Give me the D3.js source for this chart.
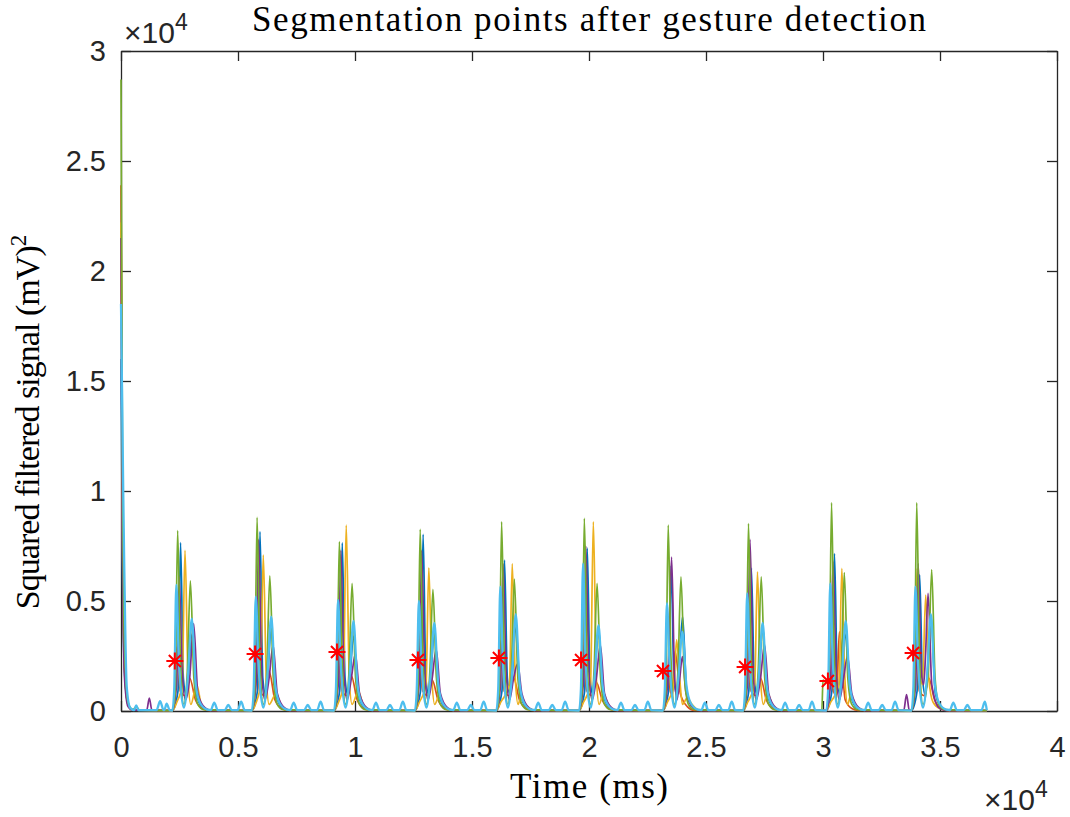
<!DOCTYPE html>
<html>
<head>
<meta charset="utf-8">
<script src="https://cdn.jsdelivr.net/npm/d3@7"></script>
<style>
  body { margin: 0; background: #fff; }
  svg { display: block; }
</style>
</head>
<body>
<div id="chart"></div>
<script>

// x ticks (ms) and y ticks, labels are shown in units of 10^4
var xTicks = [0, 5000, 10000, 15000, 20000, 25000, 30000, 35000, 40000];
var yTicks = [0, 5000, 10000, 15000, 20000, 25000, 30000];

// segmentation points found by the detector
var segTime = [2300, 5730, 9230, 12690, 16150, 19660, 23160, 26670, 30210, 33850];
var segValue = [2270, 2590, 2680, 2320, 2410, 2320, 1820, 2000, 1360, 2640];

// squared filtered signal of each channel, [time ms, value]
var blueSeries = [
    [0,16000],[60,7000],[150,1800],[300,300],[500,60],[800,30],
    [2195,20],[2435,900],[2545,7650],[2665,1500],[2795,700],[3035,3500],[3215,800],[3485,150],[3735,40],
    [5590,20],[5830,900],[5940,8150],[6060,1500],[6190,700],[6430,3800],[6610,800],[6880,150],[7130,40],
    [9105,20],[9345,900],[9455,7640],[9575,1500],[9705,700],[9945,3400],[10125,800],[10395,150],[10645,40],
    [12560,20],[12800,900],[12910,8030],[13030,1500],[13160,700],[13400,3600],[13580,800],[13850,150],[14100,40],
    [16040,20],[16280,900],[16390,6860],[16510,1500],[16640,700],[16880,3800],[17060,800],[17330,150],[17580,40],
    [19575,20],[19815,900],[19925,7400],[20045,1500],[20175,700],[20415,3700],[20595,800],[20865,150],[21115,40],
    [23160,20],[23400,900],[23510,6600],[23630,1500],[23760,700],[24000,4300],[24180,800],[24450,150],[24700,40],
    [26590,20],[26830,900],[26940,6500],[27060,1500],[27190,700],[27430,3800],[27610,800],[27880,150],[28130,40],
    [30140,20],[30380,900],[30490,7160],[30610,1500],[30740,700],[30980,3500],[31160,800],[31430,150],[31680,40],
    [33780,20],[34020,900],[34130,6200],[34250,1500],[34380,700],[34620,4300],[34800,800],[35070,150],[35320,40],
    [37000,20]
];

var orangeSeries = [
    [0,23900],[60,9000],[150,2000],[300,300],[500,40],
    [2195,20],[2295,600],[2385,2900],[2535,900],[2735,700],[2935,1500],[3185,500],[3485,100],[3735,30],
    [5590,20],[5690,600],[5780,3000],[5930,900],[6130,700],[6330,1800],[6580,500],[6880,100],[7130,30],
    [9105,20],[9205,600],[9295,2600],[9445,900],[9645,700],[9845,1600],[10095,500],[10395,100],[10645,30],
    [12560,20],[12660,600],[12750,2400],[12900,900],[13100,700],[13300,1400],[13550,500],[13850,100],[14100,30],
    [16040,20],[16140,600],[16230,3200],[16380,900],[16580,700],[16780,1500],[17030,500],[17330,100],[17580,30],
    [19575,20],[19675,600],[19765,2500],[19915,900],[20115,700],[20315,1300],[20565,500],[20865,100],[21115,30],
    [23160,20],[23260,600],[23350,2000],[23480,900],[23560,700],[23680,2700],[23900,800],[24200,200],[24500,30],
    [26590,20],[26690,600],[26780,2200],[26930,900],[27130,700],[27330,1500],[27580,500],[27880,100],[28130,30],
    [30140,20],[30240,600],[30330,1600],[30450,900],[30580,700],[30700,3600],[30950,500],[31250,100],[31500,30],
    [33780,20],[33880,600],[33970,3000],[34120,900],[34320,700],[34520,1500],[34770,500],[35070,100],[35320,30],
    [37000,20]
];

var yellowSeries = [
    [0,22200],[60,9000],[150,2000],[300,300],[500,40],
    [2195,20],[2385,400],[2615,1200],[2735,7300],[2865,1500],[2985,300],[3235,1200],[3435,300],[3735,40],
    [5590,20],[5780,400],[5960,1200],[6080,7090],[6210,1500],[6330,300],[6630,800],[6830,300],[7130,40],
    [9105,20],[9295,400],[9505,1200],[9625,8450],[9755,1500],[9875,300],[10145,900],[10345,300],[10645,40],
    [12560,20],[12750,400],[13035,1200],[13155,6510],[13285,1500],[13405,300],[13600,700],[13800,300],[14100,40],
    [16040,20],[16230,400],[16600,1200],[16720,6700],[16850,1500],[16970,300],[17080,600],[17280,300],[17580,40],
    [19575,20],[19765,400],[20065,1200],[20185,8600],[20315,1500],[20435,300],[20615,800],[20815,300],[21115,40],
    [23160,20],[23350,400],[23625,1200],[23745,3230],[23875,1500],[23995,300],[24200,600],[24400,300],[24700,40],
    [26590,20],[26780,400],[27080,1200],[27200,6330],[27330,1500],[27450,300],[27630,800],[27830,300],[28130,40],
    [30140,20],[30330,400],[30685,1200],[30805,6480],[30935,1500],[31055,300],[31180,700],[31380,300],[31680,40],
    [33780,20],[33900,1500],[34020,6480],[34130,2000],[34250,1200],[34390,5270],[34520,1500],[34700,400],[35000,100],[35300,30],
    [37000,20]
];

var purpleSeries = [
    [0,21500],[60,8000],[150,1500],[300,200],[500,40],[1100,40],[1210,590],[1320,40],
    [2195,20],[2375,1200],[2485,6100],[2615,1800],[2755,500],[2935,1500],[3105,3970],[3285,800],[3585,150],[3835,30],
    [5590,20],[5770,1200],[5880,7800],[6010,1800],[6150,500],[6330,1500],[6500,3000],[6680,800],[6980,150],[7230,30],
    [9105,20],[9285,1200],[9395,7300],[9525,1800],[9665,500],[9845,1500],[10015,2600],[10195,800],[10495,150],[10745,30],
    [12560,20],[12740,1200],[12850,7300],[12980,1800],[13120,500],[13300,1500],[13470,2800],[13650,800],[13950,150],[14200,30],
    [16040,20],[16220,1200],[16330,6700],[16460,1800],[16600,500],[16780,1500],[16950,2160],[17130,800],[17430,150],[17680,30],
    [19575,20],[19755,1200],[19865,7500],[19995,1800],[20135,500],[20315,1500],[20485,3000],[20665,800],[20965,150],[21215,30],
    [23160,20],[23360,1200],[23530,7000],[23650,1800],[23760,500],[23880,1500],[23990,2470],[24150,800],[24450,150],[24700,30],
    [26590,20],[26770,1200],[26880,7800],[27010,1800],[27150,500],[27330,1500],[27500,3000],[27680,800],[27980,150],[28230,30],
    [30140,20],[30320,1200],[30430,6800],[30560,1800],[30700,500],[30880,1500],[31050,2500],[31230,800],[31530,150],[31780,30],
    [33450,20],[33570,750],[33690,20],
    [33780,20],[33960,1200],[34070,6700],[34200,1800],[34300,1200],[34380,2500],[34490,5350],[34650,1200],[34950,150],[35200,30],
    [37000,20]
];

var greenSeries = [
    [0,28700],[60,12000],[150,3000],[300,400],[500,60],[650,200],[800,40],
    [2195,20],[2315,800],[2420,8200],[2535,2500],[2685,300],[2835,1800],[2965,5920],[3115,1500],[3285,300],[3535,60],
    [5590,20],[5710,800],[5815,8800],[5930,2500],[6080,300],[6230,1800],[6360,6140],[6510,1500],[6680,300],[6930,60],
    [9105,20],[9225,800],[9330,7700],[9445,2500],[9595,300],[9745,1800],[9875,5800],[10025,1500],[10195,300],[10445,60],
    [12560,20],[12680,800],[12785,8260],[12900,2500],[13050,300],[13200,1800],[13330,5530],[13480,1500],[13650,300],[13900,60],
    [16040,20],[16160,800],[16265,8600],[16380,2500],[16530,300],[16680,1800],[16810,5990],[16960,1500],[17130,300],[17380,60],
    [19575,20],[19695,800],[19800,8760],[19915,2500],[20065,300],[20215,1800],[20345,5800],[20495,1500],[20665,300],[20915,60],
    [23160,20],[23280,800],[23385,8450],[23500,2500],[23650,300],[23800,1800],[23930,6100],[24080,1500],[24250,300],[24500,60],
    [26590,20],[26710,800],[26815,8520],[26930,2500],[27080,300],[27230,1800],[27360,6100],[27510,1500],[27680,300],[27930,60],
    [29950,20],[30000,1400],[30120,1300],[30260,1500],[30365,9470],[30480,2500],[30630,300],[30780,1800],[30910,6290],[31060,1500],[31230,300],[31480,60],
    [33780,20],[33900,800],[34005,9470],[34120,2500],[34270,300],[34500,1800],[34645,6430],[34790,1500],[34950,300],[35200,60],
    [37000,20]
];

var cyanSeries = [
    [0,18500],[100,9600],[245,1100],[390,150],[560,40],[650,250],[750,40],[1520,40],[1670,450],[1820,40],[1850,40],[1950,330],[2080,40],
    [2195,20],[2275,1000],[2365,5730],[2475,2200],[2685,150],[2855,1500],[3025,4200],[3195,1200],[3385,350],[3685,60],
    [3835,40],[3985,380],[4135,40],[4435,40],[4585,280],[4735,40],[4985,40],[5135,420],[5285,40],
    [5590,20],[5670,1000],[5760,5200],[5870,2200],[6080,150],[6250,1500],[6420,4290],[6590,1200],[6780,350],[7080,60],
    [7230,40],[7380,380],[7530,40],[7830,40],[7980,280],[8130,40],[8380,40],[8530,420],[8680,40],
    [9105,20],[9185,1000],[9275,5050],[9385,2200],[9595,150],[9765,1500],[9935,4100],[10105,1200],[10295,350],[10595,60],
    [10745,40],[10895,380],[11045,40],[11345,40],[11495,280],[11645,40],[11895,40],[12045,420],[12195,40],
    [12560,20],[12640,1000],[12730,5000],[12840,2200],[13050,150],[13220,1500],[13390,4000],[13560,1200],[13750,350],[14050,60],
    [14200,40],[14350,380],[14500,40],[14800,40],[14950,280],[15100,40],[15350,40],[15500,420],[15650,40],
    [16040,20],[16120,1000],[16210,5650],[16320,2200],[16530,150],[16700,1500],[16870,4400],[17040,1200],[17230,350],[17530,60],
    [17680,40],[17830,380],[17980,40],[18280,40],[18430,280],[18580,40],[18830,40],[18980,420],[19130,40],
    [19575,20],[19655,1000],[19745,6700],[19855,2200],[20065,150],[20235,1500],[20405,3900],[20575,1200],[20765,350],[21065,60],
    [21215,40],[21365,380],[21515,40],[21815,40],[21965,280],[22115,40],[22365,40],[22515,420],[22665,40],
    [23160,20],[23240,1000],[23330,4900],[23440,2200],[23650,150],[23820,1500],[23990,3600],[24160,1200],[24350,350],[24650,60],
    [24800,40],[24950,380],[25100,40],[25400,40],[25550,280],[25700,40],[25950,40],[26100,420],[26250,40],
    [26590,20],[26670,1000],[26760,5350],[26870,2200],[27080,150],[27250,1500],[27420,4000],[27590,1200],[27780,350],[28080,60],
    [28230,40],[28380,380],[28530,40],[28830,40],[28980,280],[29130,40],[29380,40],[29530,420],[29680,40],
    [30140,20],[30220,1000],[30310,5800],[30420,2200],[30630,150],[30800,1500],[30970,4100],[31140,1200],[31330,350],[31630,60],
    [31780,40],[31930,380],[32080,40],[32380,40],[32530,280],[32680,40],[32930,40],[33080,420],[33230,40],
    [33780,20],[33860,1000],[33950,5650],[34060,2200],[34270,150],[34440,1500],[34610,4400],[34780,1200],[34970,350],[35270,60],
    [35420,40],[35570,380],[35720,40],[36020,40],[36170,280],[36320,40],[36770,40],[36920,420],[37000,40]
];

// matlab default colour order
var seriesList = [
    {data: blueSeries, color: "#0072BD", width: 1.7},
    {data: orangeSeries, color: "#D95319", width: 1.7},
    {data: yellowSeries, color: "#EDB120", width: 1.7},
    {data: purpleSeries, color: "#7E2F8E", width: 1.7},
    {data: greenSeries, color: "#77AC30", width: 1.7},
    {data: cyanSeries, color: "#4DBEEE", width: 2.3}
];

var W = 1070, H = 817;
var plot = {left: 121, right: 1057, top: 51, bottom: 711};
var axisColor = "#262626";
var tickFont = "'Liberation Sans', Arial, Helvetica, sans-serif";
var serifFont = "'Liberation Serif', 'Times New Roman', serif";

var svg = d3.select("#chart").append("svg")
    .attr("width", W)
    .attr("height", H);

var x = d3.scaleLinear().domain([0, 40000]).range([plot.left, plot.right]);
var y = d3.scaleLinear().domain([0, 30000]).range([plot.bottom, plot.top]);

var fmt = function (d) { return String(d / 10000); };

// box with inward ticks on all four sides
var xAxisB = d3.axisBottom(x).tickValues(xTicks).tickFormat(fmt)
    .tickSizeInner(-10).tickSizeOuter(0).tickPadding(25);
var xAxisT = d3.axisTop(x).tickValues(xTicks).tickFormat("")
    .tickSizeInner(-10).tickSizeOuter(0);
var yAxisL = d3.axisLeft(y).tickValues(yTicks).tickFormat(fmt)
    .tickSizeInner(-10).tickSizeOuter(0).tickPadding(15);
var yAxisR = d3.axisRight(y).tickValues(yTicks).tickFormat("")
    .tickSizeInner(-10).tickSizeOuter(0);

var axes = [
    svg.append("g").attr("transform", "translate(0," + plot.bottom + ")").call(xAxisB),
    svg.append("g").attr("transform", "translate(0," + plot.top + ")").call(xAxisT),
    svg.append("g").attr("transform", "translate(" + plot.left + ",0)").call(yAxisL),
    svg.append("g").attr("transform", "translate(" + plot.right + ",0)").call(yAxisR)
];
axes.forEach(function (g) {
    g.selectAll("path, line").attr("stroke", axisColor).attr("stroke-width", 1.3);
    g.selectAll("text")
        .attr("fill", axisColor)
        .style("font-family", tickFont)
        .style("font-size", "29px");
});

// signal lines
var line = d3.line()
    .x(function (d) { return x(d[0]); })
    .y(function (d) { return y(d[1]); })
    .curve(d3.curveMonotoneX);

svg.append("g").selectAll("path")
    .data(seriesList)
    .enter()
    .append("path")
    .attr("d", function (d) { return line(d.data); })
    .attr("fill", "none")
    .attr("stroke", function (d) { return d.color; })
    .attr("stroke-width", function (d) { return d.width; })
    .attr("stroke-linejoin", "round");

// red asterisk markers
var star = "M-8.5,0H8.5M0,-8.5V8.5M-6,-6L6,6M-6,6L6,-6";
svg.append("g").selectAll("path")
    .data(segTime)
    .enter()
    .append("path")
    .attr("transform", function (d, i) {
        return "translate(" + x(d) + "," + y(segValue[i]) + ")";
    })
    .attr("d", star)
    .attr("fill", "none")
    .attr("stroke", "#FF0000")
    .attr("stroke-width", 2);

// exponent labels
function exponent(px, py) {
    var t = svg.append("text")
        .attr("x", px).attr("y", py)
        .attr("fill", axisColor)
        .style("font-family", tickFont)
        .style("font-size", "30px");
    t.append("tspan").text("\u00d710");
    t.append("tspan").attr("dy", -13).style("font-size", "23px").text("4");
}
exponent(124, 43);
exponent(984, 810);

// title and axis labels
svg.append("text")
    .attr("x", 589).attr("y", 31)
    .attr("text-anchor", "middle")
    .attr("textLength", 674)
    .style("font-family", serifFont)
    .style("font-size", "35px")
    .attr("fill", "#000")
    .text("Segmentation points after gesture detection");

svg.append("text")
    .attr("x", 589).attr("y", 798)
    .attr("text-anchor", "middle")
    .attr("textLength", 158)
    .style("font-family", serifFont)
    .style("font-size", "35px")
    .attr("fill", "#000")
    .text("Time (ms)");

var yl = svg.append("text")
    .attr("transform", "translate(39,422) rotate(-90)")
    .attr("text-anchor", "middle")
    .style("font-family", serifFont)
    .style("font-size", "34px")
    .attr("fill", "#000");
yl.append("tspan").attr("textLength", 364).text("Squared filtered signal (mV)");
yl.append("tspan").attr("dy", -13).style("font-size", "23px").text("2");

</script>
</body>
</html>
